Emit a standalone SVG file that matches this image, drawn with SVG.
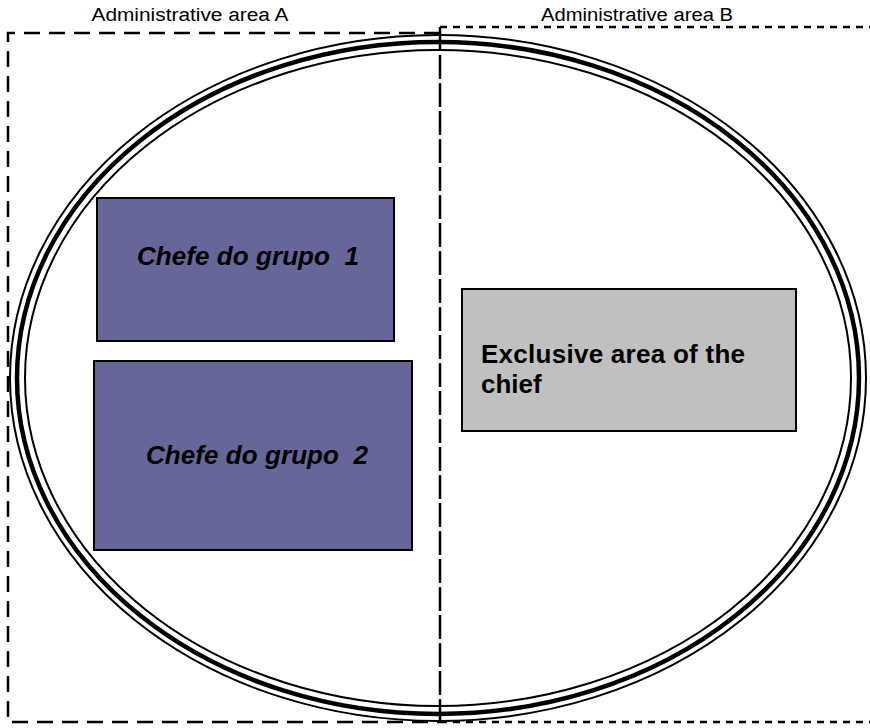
<svg xmlns="http://www.w3.org/2000/svg" width="870" height="728" viewBox="0 0 870 728">
<style>
.lbl{font-family:"Liberation Sans",Arial,sans-serif;font-size:18px;fill:#000}
.grp{font-family:"Liberation Sans",Arial,sans-serif;font-size:26px;font-weight:bold;font-style:italic;fill:#000}
.chief{font-family:"Liberation Sans",Arial,sans-serif;font-size:26px;font-weight:bold;fill:#000}
.box{stroke:#000;stroke-width:2}
.ell{fill:none;stroke:#000}
</style>
<rect width="870" height="728" fill="#fff"/>
<g id="area-a">
<path d="M440,33 H8 V722 H440" fill="none" stroke="#000" stroke-width="2.5" stroke-dasharray="16 9"/>
<text class="lbl" x="190" y="21" text-anchor="middle" textLength="197" lengthAdjust="spacingAndGlyphs">Administrative area A</text>
</g>
<g id="area-b">
<path d="M440,27 H872 M440,722 H872" fill="none" stroke="#000" stroke-width="2.5" stroke-dasharray="7 6"/>
<text class="lbl" x="637" y="21" text-anchor="middle" textLength="192" lengthAdjust="spacingAndGlyphs">Administrative area B</text>
</g>
<g id="boundary">
<ellipse class="ell" cx="438" cy="378" rx="428" ry="343" stroke-width="2"/>
<ellipse class="ell" cx="438" cy="378" rx="421" ry="336" stroke-width="4.5"/>
<ellipse class="ell" cx="438" cy="378" rx="413" ry="328" stroke-width="2"/>
</g>
<g id="connectors">
<line x1="440" y1="27" x2="440" y2="724" stroke="#000" stroke-width="2.5" stroke-dasharray="24 4"/>
</g>
<g id="chefe-1">
<rect class="box" x="97" y="198" width="297" height="143" fill="#666699"/>
<text class="grp" x="248" y="265" text-anchor="middle" textLength="222" lengthAdjust="spacing" xml:space="preserve">Chefe do grupo  1</text>
</g>
<g id="chefe-2">
<rect class="box" x="94" y="361" width="318" height="189" fill="#666699"/>
<text class="grp" x="257" y="464" text-anchor="middle" textLength="222" lengthAdjust="spacing" xml:space="preserve">Chefe do grupo  2</text>
</g>
<g id="exclusive">
<rect class="box" x="462" y="289" width="334" height="142" fill="#C0C0C0"/>
<text class="chief" x="481" y="363" textLength="264" lengthAdjust="spacing">Exclusive area of the</text>
<text class="chief" x="481" y="393">chief</text>
</g>
</svg>
